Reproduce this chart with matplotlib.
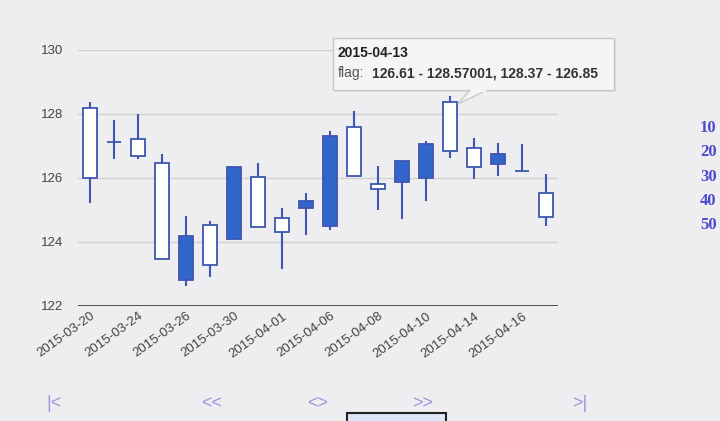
import matplotlib
matplotlib.use("Agg")
import matplotlib.pyplot as plt
from matplotlib.patches import Rectangle, Polygon
import numpy as np

# trading days shown in the chart
dates = ["2015-03-20", "2015-03-23", "2015-03-24", "2015-03-25", "2015-03-26",
         "2015-03-27", "2015-03-30", "2015-03-31", "2015-04-01", "2015-04-02",
         "2015-04-06", "2015-04-07", "2015-04-08", "2015-04-09", "2015-04-10",
         "2015-04-13", "2015-04-14", "2015-04-15", "2015-04-16", "2015-04-17"]
low_vals   = [125.21, 126.58, 126.60, 123.46, 122.63, 122.92, 124.08, 124.46, 123.15, 124.22,
              124.38, 126.06, 125.00, 124.72, 125.28, 126.61, 125.96, 126.06, 126.22, 124.50]
open_vals  = [125.99, 127.13, 126.70, 123.46, 124.19, 123.28, 126.33, 124.46, 124.30, 125.28,
              127.31, 126.06, 125.65, 126.54, 127.05, 126.85, 126.33, 126.75, 126.22, 124.77]
close_vals = [128.20, 127.13, 127.21, 126.48, 122.81, 124.53, 124.08, 126.04, 124.76, 125.07,
              124.50, 127.60, 125.81, 125.86, 125.99, 128.37, 126.93, 126.44, 126.22, 125.52]
high_vals  = [128.38, 127.81, 127.99, 126.75, 124.82, 124.66, 126.33, 126.48, 125.05, 125.54,
              127.47, 128.09, 126.37, 126.54, 127.16, 128.57, 127.26, 127.10, 127.06, 126.13]
tick_idx = [0, 2, 4, 6, 8, 10, 12, 14, 16, 18]
y_ticks = [122, 124, 126, 128, 130]
legend_nums = ["10", "20", "30", "40", "50"]
nav_labels = ["|<", "<<", "<>", ">>", ">|"]

W, H = 720, 421
bg = "#eeedef"
blue = "#3366cc"
edge = "#3d56b0"

def px(x, y):
    return (x / W, 1 - y / H)

fig = plt.figure(figsize=(7.2, 4.21), dpi=100, facecolor=bg)
ax = fig.add_axes([78 / W, 1 - 306 / H, 480 / W, 256 / H])
ax.set_facecolor(bg)

x = np.arange(len(dates))
o = np.array(open_vals)
c = np.array(close_vals)
lo = np.array(low_vals)
hi = np.array(high_vals)

#wicks
ax.vlines(x, lo, hi, color=edge, lw=1.5, zorder=3)
#bodies: falling filled, rising hollow
falling = o > c
face = [blue if f else "white" for f in falling]
bottoms = np.minimum(o, c)
heights = np.abs(o - c)
ax.bar(x, heights, bottom=bottoms, width=0.58, color=face, edgecolor=edge,
       linewidth=1.3, zorder=4)

ax.set_xlim(-0.5, len(dates) - 0.5)
ax.set_ylim(122, 130)
ax.set_yticks(y_ticks)
ax.set_yticklabels([str(v) for v in y_ticks])
ax.set_xticks(tick_idx)
ax.set_xticklabels([dates[i] for i in tick_idx], rotation=36, ha="right",
                   rotation_mode="anchor")
for sp in ax.spines.values():
    sp.set_visible(False)
ax.tick_params(axis="both", length=0, labelsize=9.5, labelcolor="#444444",
               labelfontfamily="Liberation Sans")
ax.tick_params(axis="y", pad=11)
ax.tick_params(axis="x", pad=3)
for v in y_ticks[1:]:
    ax.axhline(v, color="#d2d2d2", lw=1, zorder=1)
ax.axhline(122, color="#444444", lw=1.3, zorder=2)

#tooltip
shadow = Rectangle(px(335, 92), 281 / W, 52 / H, transform=fig.transFigure,
                   facecolor="#dcdcdc", edgecolor="none", zorder=5)
box = Rectangle(px(333, 90), 281 / W, 52 / H, transform=fig.transFigure,
                facecolor="#f5f5f5", edgecolor="#c8c8c8", lw=1, zorder=6)
tip = Polygon([px(470, 90), px(487, 90), px(458, 104)], closed=True,
              transform=fig.transFigure, facecolor="#f5f5f5",
              edgecolor="#c8c8c8", lw=1, zorder=6)
fig.add_artist(shadow)
fig.add_artist(tip)
fig.add_artist(box)
fig.add_artist(Rectangle(px(471, 91.5), 15 / W, 3 / H, transform=fig.transFigure,
                         facecolor="#f5f5f5", edgecolor="none", zorder=7))
fig.text(*px(338, 53), "2015-04-13", fontsize=10, fontweight="bold",
         color="#222222", va="center", family="Liberation Sans", zorder=8)
fig.text(*px(338, 73), "flag:", fontsize=10, color="#555555", va="center",
         family="Liberation Sans", zorder=8)
fig.text(*px(372, 73), "126.61 - 128.57001, 128.37 - 126.85", fontsize=10,
         fontweight="bold", color="#333333", va="center",
         family="Liberation Sans", zorder=8)

#legend numbers on the right (cut off)
for i, s in enumerate(legend_nums):
    fig.text(*px(700, 128 + 24.3 * i), s, fontsize=12, fontweight="bold",
             color="#4a4acc", va="center", family="Liberation Serif")

#navigation
nav_x = [54, 212, 318, 423, 580]
for xx, s in zip(nav_x, nav_labels):
    fig.text(*px(xx, 404), s, fontsize=13, color="#9a9ae0", ha="center",
             va="center", family="Liberation Sans")
fig.add_artist(Rectangle(px(347, 425), 99 / W, 12 / H, transform=fig.transFigure,
                         facecolor="#dce6f8", edgecolor="#222222", lw=1.5))

fig.savefig("out.png", dpi=100, facecolor=bg)
